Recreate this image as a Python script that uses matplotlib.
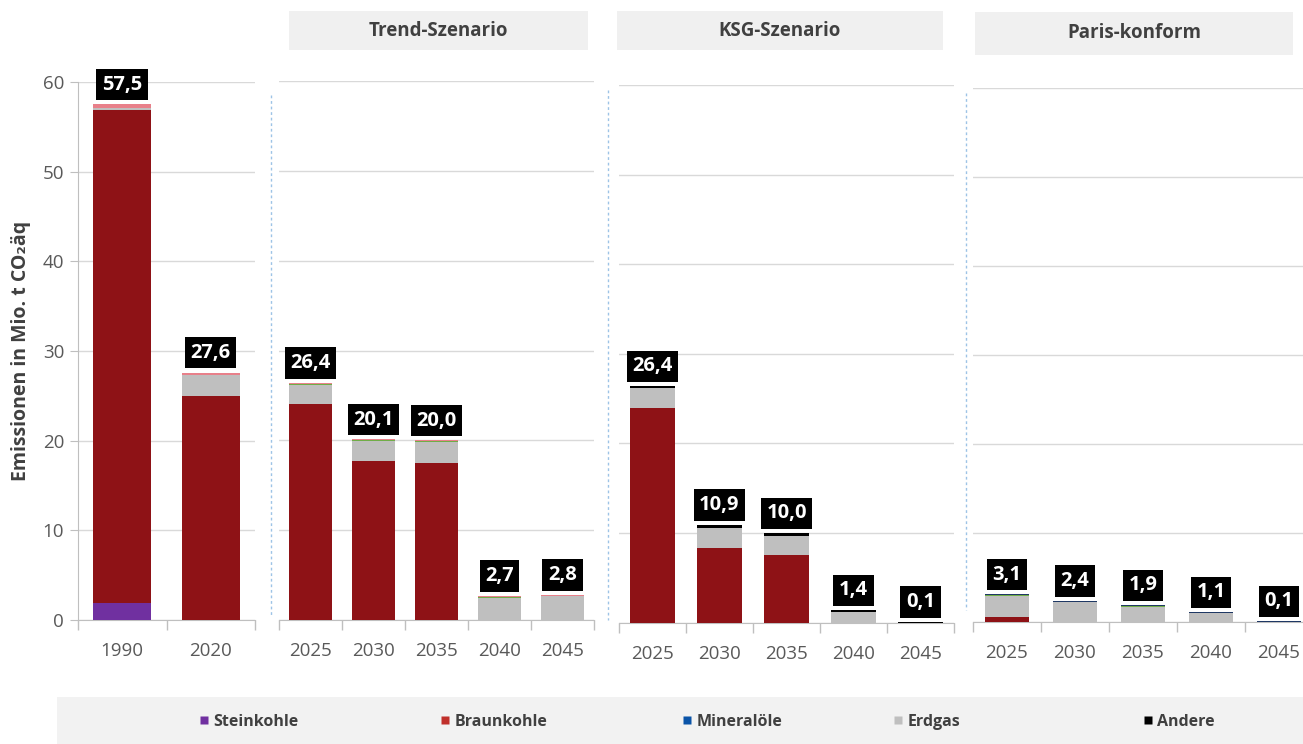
import matplotlib
matplotlib.use("Agg")
import matplotlib.pyplot as plt
from matplotlib.patches import Rectangle
from matplotlib.lines import Line2D

plt.rcParams['font.family'] = ['Open Sans', 'DejaVu Sans']

W, H = 1303, 744

# Jahre je Teilgrafik
jahre_historie = ['1990', '2020']
jahre_szenario = ['2025', '2030', '2035', '2040', '2045']
szenarien = ['Trend-Szenario', 'KSG-Szenario', 'Paris-konform']

# Emissionen in Mio. t CO2äq, Reihenfolge: 1990, 2020, Trend (5), KSG (5), Paris (5)
steinkohle  = [1.9, 0.0,  0.0, 0.0, 0.0, 0.0, 0.0,  0.0, 0.0, 0.0, 0.0, 0.0,  0.0, 0.0, 0.0, 0.0, 0.0]
braunkohle  = [55.0, 25.0, 24.0, 17.7, 17.5, 0.0, 0.0, 23.9, 8.3, 7.5, 0.0, 0.0, 0.6, 0.0, 0.0, 0.0, 0.0]
erdgas      = [0.2, 2.3,  2.2, 2.2, 2.3, 2.5, 2.7,  2.3, 2.3, 2.2, 1.2, 0.0,  2.3, 2.2, 1.7, 1.0, 0.0]
erneuerbar  = [0.0, 0.0,  0.1, 0.1, 0.1, 0.1, 0.0,  0.0, 0.0, 0.0, 0.0, 0.0,  0.1, 0.1, 0.1, 0.0, 0.0]
mineraloele = [0.0, 0.0,  0.0, 0.0, 0.0, 0.0, 0.0,  0.0, 0.0, 0.0, 0.0, 0.0,  0.1, 0.1, 0.1, 0.1, 0.1]
andere      = [0.0, 0.0,  0.0, 0.0, 0.0, 0.0, 0.0,  0.2, 0.3, 0.3, 0.2, 0.1,  0.0, 0.0, 0.0, 0.0, 0.0]
abfall      = [0.4, 0.3,  0.1, 0.1, 0.1, 0.1, 0.1,  0.0, 0.0, 0.0, 0.0, 0.0,  0.0, 0.0, 0.0, 0.0, 0.0]

stapel = [
    (steinkohle, '#7030A0'),
    (braunkohle, '#8E1216'),
    (erdgas, '#BFBFBF'),
    (erneuerbar, '#70AD47'),
    (mineraloele, '#1F3864'),
    (andere, '#000000'),
    (abfall, '#E8808A'),
]

legende = [('Steinkohle', '#7030A0'), ('Braunkohle', '#C0302B'),
           ('Mineralöle', '#0A54A8'), ('Erdgas', '#BFBFBF'), ('Andere', '#000000')]
legende_x = [199, 440, 682, 893, 1143]

# Teilgrafiken: (Kategorien, erster Index, x links, x rechts, y bei 60, y bei 0, Balkenbreite) in Pixeln
panels = [
    (jahre_historie, 0, 78, 255, 82, 620, 0.65),
    (jahre_szenario, 2, 279, 594, 81, 620, 0.67),
    (jahre_szenario, 7, 619, 954, 85, 622.5, 0.67),
    (jahre_szenario, 12, 973, 1313, 88, 622, 0.65),
]

fig = plt.figure(figsize=(W / 100, H / 100), dpi=100)
fig.patch.set_facecolor('white')

grid_c = '#D9D9D9'
axis_c = '#BFBFBF'
text_c = '#595959'

for p, (cats, start, x0, x1, ytop, y0, bw) in enumerate(panels):
    ax = fig.add_axes([x0 / W, 1 - y0 / H, (x1 - x0) / W, (y0 - ytop) / H])
    ax.set_xlim(-0.5, len(cats) - 0.5)
    ax.set_ylim(0, 60)
    ax.set_facecolor('none')
    idx = list(range(start, start + len(cats)))
    xs = list(range(len(cats)))
    bottom = [0.0] * len(cats)
    for werte, farbe in stapel:
        vals = [werte[i] for i in idx]
        ax.bar(xs, vals, bw, bottom=bottom, color=farbe, linewidth=0, zorder=3)
        bottom = [b + v for b, v in zip(bottom, vals)]
    for x, tot in zip(xs, bottom):
        ax.annotate(f"{tot:.1f}".replace('.', ','), (x, tot), xytext=(0, 7),
                    textcoords='offset points', ha='center', va='bottom',
                    color='white', fontsize=14.5, fontweight='bold', zorder=5,
                    bbox=dict(boxstyle='square,pad=0.28', fc='black', ec='none'))
    ax.set_yticks(range(0, 61, 10))
    ax.yaxis.grid(True, color=grid_c, linewidth=1, zorder=0)
    ax.set_xticks(xs)
    ax.set_xticklabels(cats)
    ax.set_xticks([x + 0.5 for x in [-1] + xs], minor=True)
    ax.tick_params(axis='x', which='major', length=0, pad=16, labelsize=13.5, labelcolor=text_c)
    ax.tick_params(axis='x', which='minor', length=7, color=axis_c, width=1)
    for s in ['top', 'right']:
        ax.spines[s].set_visible(False)
    ax.spines['bottom'].set_color(axis_c)
    if p == 0:
        ax.spines['left'].set_color(axis_c)
        ax.tick_params(axis='y', length=6, color=axis_c, labelsize=13.5, labelcolor=text_c, pad=4)
        ax.set_ylabel('Emissionen in Mio. t CO₂äq', fontsize=14, fontweight='bold',
                      color='#404040', labelpad=8)
    else:
        ax.spines['left'].set_visible(False)
        ax.tick_params(axis='y', length=0, labelleft=False)

# Szenario-Überschriften
kopf = [(289, 588, 11, 50), (617, 943, 11, 50), (975, 1293, 12, 55)]
for name, (a, b, t, u) in zip(szenarien, kopf):
    fig.add_artist(Rectangle((a / W, 1 - u / H), (b - a) / W, (u - t) / H,
                             transform=fig.transFigure, fc='#F0F0F0', ec='none'))
    fig.text((a + b) / 2 / W, 1 - (t + u) / 2 / H, name, ha='center', va='center',
             fontsize=13.5, fontweight='bold', color='#404040')

# gestrichelte Trennlinien zwischen den Teilgrafiken
for x, ya, yb in [(271, 95, 615), (608, 90, 620), (966, 93, 610)]:
    fig.add_artist(Line2D([x / W, x / W], [1 - ya / H, 1 - yb / H], transform=fig.transFigure,
                          color='#9DC3E6', linewidth=1, linestyle=(0, (2, 2))))

# Legendenband mit einzeln platzierten Einträgen
fig.add_artist(Rectangle((57 / W, 0), (W - 57) / W, (H - 697) / H,
                         transform=fig.transFigure, fc='#F2F2F2', ec='none'))
for (name, farbe), lx in zip(legende, legende_x):
    h = Line2D([], [], marker='s', linestyle='none', markersize=6,
               markerfacecolor=farbe, markeredgecolor='none', label=name)
    leg = fig.legend(handles=[h], loc='center left', bbox_to_anchor=(lx / W, 1 - 722 / H),
                     frameon=False, handlelength=0.6, handletextpad=0.3, borderpad=0,
                     borderaxespad=0, prop={'size': 11.5, 'weight': 'bold'})
    for t in leg.get_texts():
        t.set_color('#404040')

fig.savefig('out.png', dpi=100)
